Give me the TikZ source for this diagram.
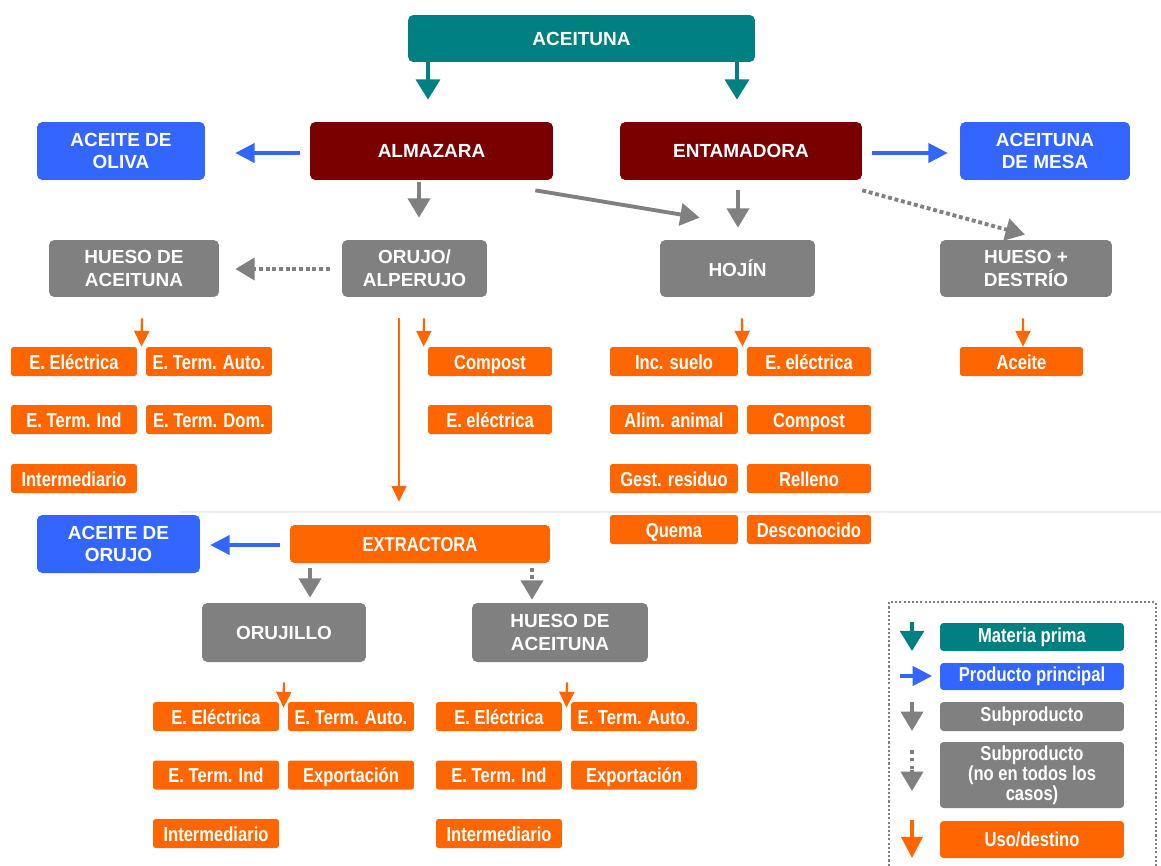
\documentclass[tikz,border=0pt]{standalone}
\usepackage{fontspec}
\setmainfont{Liberation Sans}
\newfontfamily\narrowf[FakeStretch=0.82]{Liberation Sans}
\usetikzlibrary{arrows.meta,calc}
\definecolor{teal1}{RGB}{0,128,128}
\definecolor{blue1}{RGB}{51,102,255}
\definecolor{red1}{RGB}{122,0,0}
\definecolor{gray1}{RGB}{128,128,128}
\definecolor{orange1}{RGB}{255,102,0}
\begin{document}
\begin{tikzpicture}[x=0.02cm,y=-0.02cm,
 big/.style={text=white, font=\fontsize{10.8}{13}\selectfont\bfseries, align=center, rounded corners=3pt, inner sep=0pt},
 tealbox/.style={big, fill=teal1},
 bluebox/.style={big, fill=blue1},
 redbox/.style={big, fill=red1},
 graybox/.style={big, fill=gray1},
 obox/.style={fill=orange1, text=white, font=\narrowf\fontsize{11.5}{12}\selectfont\bfseries, minimum width=2.52cm, minimum height=0.58cm, text height=9.2pt, text depth=0.6pt, inner sep=0pt, rounded corners=1.5pt},
 lbox/.style={text=white, font=\narrowf\fontsize{11.5}{11.5}\selectfont\bfseries, align=center, minimum width=3.68cm, inner sep=0pt, rounded corners=2pt},
 tealarr/.style={teal1, line width=2.3pt, -{Triangle[width=13.5pt,length=11.5pt]}},
 bluearr/.style={blue1, line width=1.8pt, -{Triangle[width=11pt,length=11pt]}},
 grayarr/.style={gray1, line width=2.2pt, -{Triangle[width=12.5pt,length=11pt]}},
 dotarr/.style={gray1, line width=2.2pt, dash pattern=on 2.2pt off 1.6pt, -{Triangle[width=12.5pt,length=11pt]}},
 orarr/.style={orange1, line width=1.3pt, -{Triangle[width=8.5pt,length=9pt]}},
]
\useasboundingbox (0,0) rectangle (1161,866);

% faint separator
\draw[black!7, line width=0.8pt] (180,512) -- (1161,512);

% main nodes
\node[tealbox, minimum width=6.94cm, minimum height=0.94cm] (aceituna) at (581.5,38.5) {ACEITUNA};
\node[bluebox, minimum width=3.36cm, minimum height=1.16cm] (oliva) at (121,151) {ACEITE DE\\OLIVA};
\node[redbox, minimum width=4.86cm, minimum height=1.16cm] (almazara) at (431.5,151) {ALMAZARA};
\node[redbox, minimum width=4.84cm, minimum height=1.16cm] (entamadora) at (741,151) {ENTAMADORA};
\node[bluebox, minimum width=3.4cm, minimum height=1.16cm] (mesa) at (1045,151) {ACEITUNA\\DE MESA};
\node[graybox, minimum width=3.4cm, minimum height=1.14cm] (hueso1) at (134,268.5) {HUESO DE\\ACEITUNA};
\node[graybox, minimum width=2.9cm, minimum height=1.14cm] (orujo) at (414.5,268.5) {ORUJO/\\ALPERUJO};
\node[graybox, minimum width=3.1cm, minimum height=1.14cm] (hojin) at (737.5,268.5) {HOJÍN};
\node[graybox, minimum width=3.44cm, minimum height=1.14cm] (destrio) at (1026,268.5) {HUESO +\\DESTRÍO};

% orange use boxes (upper)
\node[obox] (ha1) at (74,361.5) {E. Eléctrica};
\node[obox] (ha2) at (209,361.5) {E. Term. Auto.};
\node[obox] (ha3) at (74,419.5) {E. Term. Ind};
\node[obox] (ha4) at (209,419.5) {E. Term. Dom.};
\node[obox] (ha5) at (74,478.5) {Intermediario};
\node[obox, minimum width=2.48cm] (oa1) at (490,361.5) {Compost};
\node[obox, minimum width=2.48cm] (oa2) at (490,419.5) {E. eléctrica};
\node[obox, minimum width=2.56cm] (hj1) at (674,361.5) {Inc. suelo};
\node[obox, minimum width=2.48cm] (hj2) at (809,361.5) {E. eléctrica};
\node[obox, minimum width=2.56cm] (hj3) at (674,419.5) {Alim. animal};
\node[obox, minimum width=2.48cm] (hj4) at (809,419.5) {Compost};
\node[obox, minimum width=2.56cm] (hj5) at (674,478.5) {Gest. residuo};
\node[obox, minimum width=2.48cm] (hj6) at (809,478.5) {Relleno};
\node[obox, minimum width=2.56cm] (hj7) at (674,529.5) {Quema};
\node[obox, minimum width=2.48cm] (hj8) at (809,529.5) {Desconocido};
\node[obox, minimum width=2.46cm] (ac1) at (1021.5,361.5) {Aceite};

% extractora level
\node[obox, minimum width=5.2cm, minimum height=0.76cm, rounded corners=2.5pt] (extractora) at (420,544) {EXTRACTORA};
\node[bluebox, minimum width=3.26cm, minimum height=1.16cm] (orujooil) at (118.5,544) {ACEITE DE\\ORUJO};
\node[graybox, minimum width=3.28cm, minimum height=1.18cm] (orujillo) at (284,632.5) {ORUJILLO};
\node[graybox, minimum width=3.52cm, minimum height=1.18cm] (hueso2) at (560,632.5) {HUESO DE\\ACEITUNA};

% orange use boxes (lower)
\node[obox] (oj1) at (216,716.5) {E. Eléctrica};
\node[obox] (oj2) at (351,716.5) {E. Term. Auto.};
\node[obox] (oj3) at (216,775) {E. Term. Ind};
\node[obox] (oj4) at (351,775) {Exportación};
\node[obox] (oj5) at (216,833.5) {Intermediario};
\node[obox] (hb1) at (499,716.5) {E. Eléctrica};
\node[obox] (hb2) at (634,716.5) {E. Term. Auto.};
\node[obox] (hb3) at (499,775) {E. Term. Ind};
\node[obox] (hb4) at (634,775) {Exportación};
\node[obox] (hb5) at (499,833.5) {Intermediario};

% connectors
\draw[tealarr, shorten >=0.44cm] (aceituna.south -| 428,0) -- (almazara.north -| 428,0);
\draw[tealarr, shorten >=0.44cm] (aceituna.south -| 737,0) -- (entamadora.north -| 737,0);
\draw[bluearr, shorten <=0.2cm, shorten >=0.6cm] (almazara.west |- 0,153) -- (oliva.east |- 0,153);
\draw[bluearr, shorten <=0.2cm, shorten >=0.24cm] (entamadora.east |- 0,153) -- (mesa.west |- 0,153);
\draw[grayarr, shorten <=0.04cm, shorten >=0.44cm] (almazara.south -| 419,0) -- (orujo.north -| 419,0);
\draw[grayarr] ($(almazara.south east)+(-18,10)$) -- ($(hojin.north west)+(40,-22)$);
\draw[grayarr, shorten <=0.2cm, shorten >=0.24cm] (entamadora.south -| 738,0) -- (hojin.north -| 738,0);
\draw[dotarr] ($(entamadora.south east)+(0,10)$) -- ($(destrio.north)+(-1,-5)$);
\draw[dotarr, shorten <=0.24cm, shorten >=0.32cm] (orujo.west |- 0,269) -- (hueso1.east |- 0,269);

\draw[orarr] ($(hueso1.south)+(8,21)$) -- ($(ha1.north east)!0.5!(ha2.north west)$);
\draw[orarr] ($(orujo.south)+(9.5,21)$) -- ($(oa1.north west)+(-4,0)$);
\draw[orarr, shorten <=0.42cm, shorten >=0.46cm] (orujo.south -| 399,0) -- (extractora.north -| 399,0);
\draw[orarr] ($(hojin.south)+(4.5,21)$) -- ($(hj1.north east)!0.5!(hj2.north west)$);
\draw[orarr] ($(destrio.south)+(-3,21)$) -- ($(ac1.north)+(1.5,0)$);

\draw[bluearr, shorten <=0.2cm, shorten >=0.2cm] (extractora.west |- 0,545) -- (orujooil.east |- 0,545);
\draw[grayarr, shorten <=0.1cm, shorten >=0.1cm] (extractora.south -| 310,0) -- (orujillo.north -| 310,0);
\draw[dotarr, shorten <=0.1cm, shorten >=0.06cm] (extractora.south -| 532,0) -- (hueso2.north -| 532,0);

\draw[orarr] ($(orujillo.south)+(0,20)$) -- ($(oj1.north east)!0.5!(oj2.north west)+(0,6)$);
\draw[orarr] ($(hueso2.south)+(7,20)$) -- ($(hb1.north east)!0.5!(hb2.north west)+(0,6)$);

% legend
\draw[gray1, line width=1.2pt, dash pattern=on 1.2pt off 1.2pt] (889,870) -- (889,602) -- (1156,602) -- (1156,870);
\node[lbox, fill=teal1, minimum height=0.56cm] (lg1) at (1032,637) {Materia prima};
\node[lbox, fill=blue1, minimum height=0.54cm] (lg2) at (1032,676.5) {Producto principal};
\node[lbox, fill=gray1, minimum height=0.58cm] (lg3) at (1032,716.5) {Subproducto};
\node[lbox, fill=gray1, minimum height=1.32cm] (lg4) at (1032,775) {Subproducto\\(no en todos los\\casos)};
\node[lbox, fill=orange1, minimum height=0.74cm] (lg5) at (1032,839.5) {Uso/destino};
\draw[tealarr] (912,622) -- (912,651);
\draw[bluearr] (900,676) -- (932,676);
\draw[grayarr] (912,702) -- (912,731);
\draw[gray1, line width=2.2pt, dash pattern=on 2pt off 2.5pt] (912,750) -- (912,772);
\draw[grayarr] (912,770) -- (912,791);
\draw[orange1, line width=2pt, -{Triangle[width=12pt,length=12pt]}] (912,820) -- (912,858);
\end{tikzpicture}
\end{document}
